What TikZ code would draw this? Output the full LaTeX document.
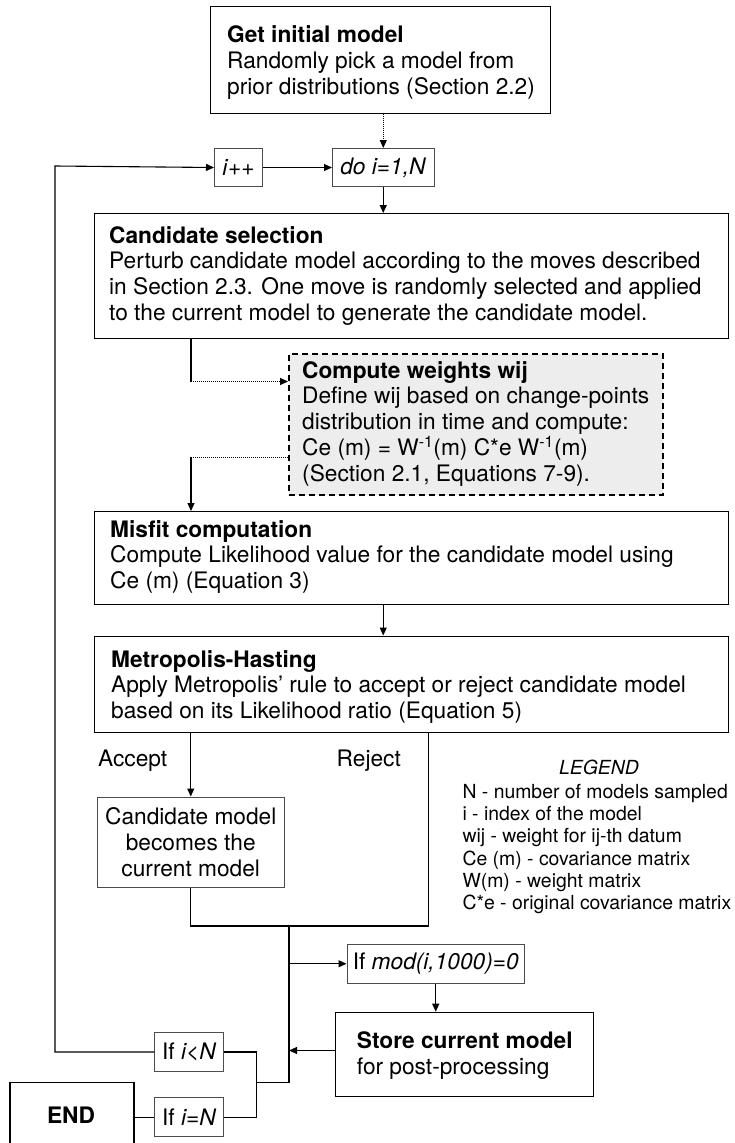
\documentclass[tikz,border=0pt]{standalone}
\usepackage{fontspec}
\setmainfont{TeX Gyre Heros}
\usetikzlibrary{arrows.meta}
\newcommand\mainsz{\fontsize{22.7pt}{25.7pt}\selectfont}
\newcommand\legsz{\fontsize{19.4pt}{22.2pt}\selectfont}
\newcommand\mst{\rule{0pt}{18pt}}
\newcommand\lst{\rule{0pt}{15pt}}
\begin{document}
\begin{tikzpicture}[x=1pt,y=-1pt,
  box/.style={draw=black, line width=1.4pt, inner sep=0pt, anchor=north west},
  sbox/.style={draw=black!70, line width=1pt, inner sep=0pt, anchor=north west, font=\mainsz},
  txt/.style={inner sep=0pt, anchor=north west, align=left, font=\mainsz},
  arr/.style={line width=1.1pt, -{Triangle[length=8pt,width=7pt]}},
  ln/.style={line width=1.1pt},
  dotl/.style={line width=1pt, dash pattern=on 1pt off 1pt},
  dashbox/.style={draw=black, line width=2.4pt, dash pattern=on 6pt off 4pt, fill=black!7, inner sep=0pt, anchor=north west},
]
\useasboundingbox (0,0) rectangle (734,1143);

% boxes
\node[box, minimum width=340pt, minimum height=107pt] (init) at (209.5,6) {};
\node[sbox, minimum width=48pt, minimum height=38pt] (inc) at (214,148) {\textit{i}++};
\node[sbox, minimum width=101.5pt, minimum height=38pt] (do) at (332,148) {\textit{do i=1,N}};
\node[box, minimum width=633.5pt, minimum height=124.5pt] (cand) at (94,213) {};
\node[dashbox, minimum width=373.5pt, minimum height=141.5pt] (wts) at (288,352.5) {};
\node[box, minimum width=633.5pt, minimum height=93pt] (mis) at (94,511) {};
\node[box, minimum width=633.5pt, minimum height=96pt] (met) at (94,635.5) {};
\node[sbox, minimum width=186.5pt, minimum height=90pt, align=center] (cm) at (97,796.5)
  {Candidate model\\becomes the\\current model};
\node[sbox, minimum width=177.5pt, minimum height=38.5pt] (mod) at (346.5,944) {If \textit{mod(i,1000)=0}};
\node[box, minimum width=258.3pt, minimum height=84.3pt] (store) at (334.7,1011.7) {};
\node[sbox, minimum width=69pt, minimum height=38.4pt] (ilt) at (154.3,1032.3) {If \textit{i<N}};
\node[sbox, minimum width=69pt, minimum height=38.7pt] (ieq) at (154.3,1097.3) {If \textit{i=N}};
\node[box, minimum width=124pt, minimum height=75pt] (endb) at (9.3,1081.7) {};

% texts
\node[txt] (initT) at (227,24.7) {\mst\textbf{Get initial model}\\Randomly pick a model from\\prior distributions (Section 2.2)};
\node[txt] (candT) at (109,225) {\mst\textbf{Candidate selection}\\Perturb candidate model according to the moves described\\in Section 2.3. One move is randomly selected and applied\\to the current model to generate the candidate model.};
\node[txt] (wtsT) at (302,360) {\mst\textbf{Compute weights wij}\\Define wij based on change-points\\distribution in time and compute:\\Ce (m) = W\textsuperscript{-1}(m) C*e W\textsuperscript{-1}(m)\\(Section 2.1, Equations 7-9).};
\node[txt] (misT) at (110,519) {\mst\textbf{Misfit computation}\\Compute Likelihood value for the candidate model using\\Ce (m) (Equation 3)};
\node[txt] (metT) at (111,649) {\mst\textbf{Metropolis-Hasting}\\Apply Metropolis’ rule to accept or reject candidate model\\based on its Likelihood ratio (Equation 5)};
\node[txt] (storeT) at (356.7,1030.3) {\mst\textbf{Store current model}\\for post-processing};
\node[inner sep=0pt, anchor=base, font=\mainsz\bfseries] (endT) at (71,1123) {END};
\node[inner sep=0pt, anchor=base west, font=\mainsz] (acc) at (98,766.5) {Accept};
\node[inner sep=0pt, anchor=base east, font=\mainsz] (rej) at (401,766.5) {Reject};
\node[inner sep=0pt, anchor=base, font=\legsz\itshape] (legT) at (599,774) {LEGEND};
\node[inner sep=0pt, anchor=north west, align=left, font=\legsz] (leg) at (462.3,783.3)
  {\lst N - number of models sampled\\i - index of the model\\wij - weight for ij-th datum\\Ce (m) - covariance matrix\\W(m) - weight matrix\\C*e - original covariance matrix};

% coordinates
\coordinate (c1) at (191,381.5);
\coordinate (c2) at (191,457);
\coordinate (rj) at (428.5,926);
\coordinate (m1) at (289,926);
\coordinate (m2) at (289,1082.7);
\coordinate (m3) at (256.7,1082.7);
\coordinate (lp) at (55,166);
\coordinate (sa) at (334.7,1050.5);

% connectors
\draw[dotl, -{Triangle[length=8pt,width=7pt]}] (do.north |- init.south) -- (do.north);
\draw[arr] (inc.east) -- (do.west);
\draw[arr] (do.south) -- (do.south |- cand.north);
\draw[ln] (cand.south -| c1) -- (c1);
\draw[dotl, -{Triangle[length=8pt,width=7pt]}] (c1) -- (c1 -| wts.west);
\draw[dotl] (wts.west |- c2) -- (c2);
\draw[arr] (c2) -- (c2 |- mis.north);
\draw[arr] (mis.south -| do.south) -- (met.north -| do.south);
\draw[arr] (met.south -| cm.north) -- (cm.north);
\draw[ln] (met.south -| rj) -- (rj) -- (cm.south |- rj) -- (cm.south);
\draw[ln] (m1) -- (m2) -- (m3);
\draw[arr] (m1 |- mod.west) -- (mod.west);
\draw[arr] (mod.south) -- (mod.south |- store.north);
\draw[arr] (sa) -- (sa -| m1);
\draw[ln] (ilt.east) -- (ilt.east -| m3) -- (ieq.east -| m3) -- (ieq.east);
\draw[ln] (ieq.west) -- (endb.east |- ieq.west);
\draw[arr] (ilt.west) -- (ilt.west -| lp) -- (lp) -- (inc.west);
\end{tikzpicture}
\end{document}
